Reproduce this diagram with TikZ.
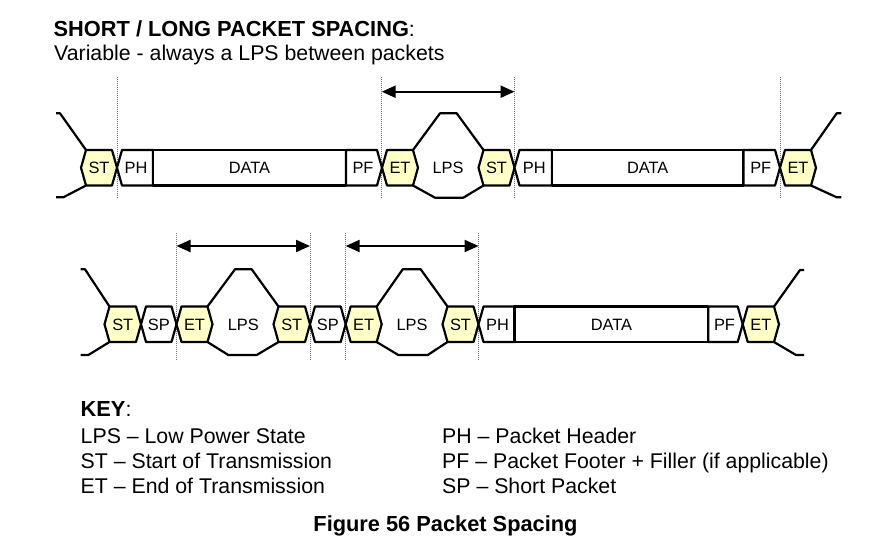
\documentclass[tikz,border=0pt]{standalone}
\usepackage{fontspec}
\setmainfont{Liberation Sans}
\usetikzlibrary{arrows.meta}
\definecolor{stfill}{RGB}{255,255,200}
\definecolor{guide}{RGB}{120,120,120}

\tikzset{
  wire/.style={line width=2.2pt, line join=round},
  lbl/.style={font=\fontsize{16.4}{18}\selectfont, inner sep=0pt, anchor=base},
  txt/.style={font=\fontsize{21.3}{24}\selectfont, inner sep=0pt, anchor=base west},
  guideline/.style={guide, line width=0.8pt, dash pattern=on 1pt off 1pt},
  span/.style={line width=2.2pt, {Triangle[length=14pt,width=12pt]}-{Triangle[length=14pt,width=12pt]}},
}
\newcommand{\bigbold}[1]{{\fontsize{21.8}{24}\selectfont\bfseries #1}}

% name, left, right, top, bottom, label, fill
\newcommand{\hexcell}[7]{%
  \draw[wire,fill=#7] (#2,{(#4+#5)/2}) -- (#2+5,#4) -- (#3-5,#4) -- (#3,{(#4+#5)/2}) -- (#3-5,#5) -- (#2+5,#5) -- cycle;
  \node[lbl] (#1) at ({(#2+#3)/2},{(#4+#5)/2+5.75}) {#6};}
% name, left, right, top, bottom, label
\newcommand{\headcell}[6]{%
  \draw[wire,fill=white] (#2,{(#4+#5)/2}) -- (#2+5,#4) -- (#3,#4) -- (#3,#5) -- (#2+5,#5) -- cycle;
  \node[lbl] (#1) at ({(#2+#3)/2+1},{(#4+#5)/2+5.75}) {#6};}
\newcommand{\footcell}[6]{%
  \draw[wire,fill=white] (#2,#4) -- (#3-5,#4) -- (#3,{(#4+#5)/2}) -- (#3-5,#5) -- (#2,#5) -- cycle;
  \node[lbl] (#1) at ({(#2+#3)/2-1},{(#4+#5)/2+5.75}) {#6};}
\newcommand{\datacell}[5]{%
  \draw[wire,fill=white] (#2,#4) rectangle (#3,#5);
  \node[lbl] (#1) at ({(#2+#3)/2},{(#4+#5)/2+5.75}) {DATA};}

\begin{document}
\begin{tikzpicture}[x=1pt,y=-1pt]
\useasboundingbox[fill=white] (0,0) rectangle (896,554);

% ---------- guide lines ----------
\foreach \gx in {117,381.7,514.5,780} \draw[guideline] (\gx,77) -- (\gx,197.5);
\foreach \gx in {176.5,310,345.7,478.5} \draw[guideline] (\gx,233) -- (\gx,360);

% ---------- row 1 ----------
\draw[wire] (86,150) -- (60,113.3) -- (56,113.3);
\draw[wire] (86,185.5) -- (63.3,197.3) -- (56,197.3);
\hexcell{st1}{81}{117}{150}{185.5}{ST}{stfill}
\headcell{ph1}{117}{153}{150}{185.5}{PH}
\datacell{data1}{153}{346}{150}{185.5}
\footcell{pf1}{346}{382}{150}{185.5}{PF}
\hexcell{et1}{382}{418}{150}{185.5}{ET}{stfill}
\draw[wire] (413,150) -- (440,113.3) -- (456.7,113.3) -- (483.5,150);
\draw[wire] (413,185.5) -- (435,197.7) -- (463.3,197.7) -- (483.5,185.5);
\node[lbl] (lps1) at (448,173.5) {LPS};
\hexcell{st2}{478.5}{514.5}{150}{185.5}{ST}{stfill}
\headcell{ph2}{514.5}{552}{150}{185.5}{PH}
\datacell{data2}{552}{743.5}{150}{185.5}
\footcell{pf2}{743.5}{780}{150}{185.5}{PF}
\hexcell{et2}{780}{816}{150}{185.5}{ET}{stfill}
\draw[wire] (811,150) -- (836.7,113.3) -- (841.3,113.3);
\draw[wire] (811,185.5) -- (836.7,197.3) -- (841.3,197.3);

\coordinate (a1l) at (381.7,91.7);
\coordinate (a1r) at (514.5,91.7);
\draw[span] (a1l) -- (a1r);

% ---------- row 2 ----------
\draw[wire] (109.5,306.5) -- (85,269.3) -- (80.7,269.3);
\draw[wire] (109.5,342) -- (88.3,355) -- (80.7,355);
\hexcell{st3}{104.5}{141}{306.5}{342}{ST}{stfill}
\hexcell{sp1}{141}{176.5}{306.5}{342}{SP}{white}
\hexcell{et3}{176.5}{212.5}{306.5}{342}{ET}{stfill}
\draw[wire] (207.5,306.5) -- (235,269.3) -- (251.7,269.3) -- (278.5,306.5);
\draw[wire] (207.5,342) -- (228.3,355) -- (256.7,355) -- (278.5,342);
\node[lbl] (lps2) at (243.3,330) {LPS};
\hexcell{st4}{273.5}{310}{306.5}{342}{ST}{stfill}
\hexcell{sp2}{310}{345.7}{306.5}{342}{SP}{white}
\hexcell{et4}{345.7}{381.7}{306.5}{342}{ET}{stfill}
\draw[wire] (376.7,306.5) -- (402.7,269.3) -- (420.7,269.3) -- (447.5,306.5);
\draw[wire] (376.7,342) -- (398.3,355) -- (427.7,355) -- (447.5,342);
\node[lbl] (lps3) at (412,330) {LPS};
\hexcell{st5}{442.5}{478.5}{306.5}{342}{ST}{stfill}
\headcell{ph3}{478.5}{514.5}{306.5}{342}{PH}
\datacell{data3}{514.5}{708.3}{306.5}{342}
\footcell{pf3}{708.3}{742.7}{306.5}{342}{PF}
\hexcell{et5}{742.7}{779}{306.5}{342}{ET}{stfill}
\draw[wire] (774,306.5) -- (800,270) -- (804,270);
\draw[wire] (774,342) -- (796,355) -- (804,355);

\coordinate (a2l) at (176.5,246);
\coordinate (a2r) at (310,246);
\coordinate (a3l) at (345.7,246);
\coordinate (a3r) at (478.5,246);
\draw[span] (a2l) -- (a2r);
\draw[span] (a3l) -- (a3r);

% ---------- texts ----------
\node[txt] (title) at (53.5,36) {\bigbold{SHORT / LONG PACKET SPACING}:};
\node[txt] (sub) at (54,60) {Variable - always a LPS between packets};
\node[txt] (key) at (80.5,416.5) {\bigbold{KEY}:};
\node[txt] (k1) at (80.5,443.8) {LPS – Low Power State};
\node[txt] (k2) at (80.5,468.5) {ST – Start of Transmission};
\node[txt] (k3) at (80.5,493.2) {ET – End of Transmission};
\node[txt] (k4) at (442,443.8) {PH – Packet Header};
\node[txt] (k5) at (442,468.5) {PF – Packet Footer + Filler (if applicable)};
\node[txt] (k6) at (442,493.2) {SP – Short Packet};
\node[inner sep=0pt, anchor=base] (cap) at (445.5,531.7) {\bigbold{Figure 56 Packet Spacing}};
\end{tikzpicture}
\end{document}
